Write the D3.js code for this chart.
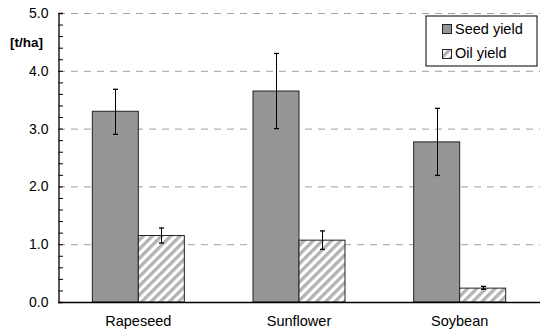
<!DOCTYPE html>
<html>
<head>
<meta charset="utf-8">
<script src="https://cdn.jsdelivr.net/npm/d3@7"></script>
<style>
  body { margin: 0; background: #fff; }
  text { font-family: "Liberation Sans", Arial, sans-serif; }
</style>
</head>
<body>
<div id="chart-area"></div>
<script>
// seed and oil yield per crop, with error bars

const crops = ["Rapeseed", "Sunflower", "Soybean"]
const seedYield = [3.30, 3.65, 2.77]
const seedLow = [2.90, 3.00, 2.19]
const seedHigh = [3.68, 4.30, 3.35]
const oilYield = [1.15, 1.07, 0.24]
const oilLow = [1.02, 0.91, 0.22]
const oilHigh = [1.28, 1.23, 0.27]
const yTicks = [0, 1, 2, 3, 4, 5]

const W = 540, H = 332
const MARGIN = {LEFT: 58, RIGHT: 0, TOP: 13, BOTTOM: 30}

const svg = d3.select("#chart-area").append("svg")
    .attr("width", W)
    .attr("height", H)

// hatch for oil bars
const pat = svg.append("defs").append("pattern")
    .attr("id", "hatch")
    .attr("patternUnits", "userSpaceOnUse")
    .attr("width", 6.5)
    .attr("height", 6.5)
    .attr("patternTransform", "rotate(45)")
pat.append("rect").attr("width", 6.5).attr("height", 6.5).attr("fill", "#fff")
pat.append("rect").attr("x", 0).attr("width", 3.3).attr("height", 6.5).attr("fill", "#b3b3b3")

const x = d3.scaleBand()
    .domain(crops)
    .range([MARGIN.LEFT, W - MARGIN.RIGHT])

const y = d3.scaleLinear()
    .domain([0, 5])
    .range([H - MARGIN.BOTTOM, MARGIN.TOP])

const barW = 46

// grid
svg.append("g").selectAll("line")
    .data(yTicks.slice(1))
    .enter().append("line")
    .attr("x1", MARGIN.LEFT)
    .attr("x2", W)
    .attr("y1", d => y(d) + 0.5)
    .attr("y2", d => y(d) + 0.5)
    .attr("stroke", "#a0a0a0")
    .attr("stroke-dasharray", "7,6")

const yAxisCall = d3.axisLeft(y)
    .tickValues(d3.range(0, 5.01, 0.2))
    .tickSize(-4.5)
    .tickFormat(d => Math.abs(d - Math.round(d)) < 1e-6 ? d3.format(".1f")(d) : "")
const yAxis = svg.append("g")
    .attr("transform", `translate(${MARGIN.LEFT + 0.5}, 0)`)
    .call(yAxisCall)
yAxis.select(".domain").attr("stroke", "#000").attr("stroke-width", 1.3)
yAxis.selectAll(".tick line").attr("stroke", "#000")
yAxis.selectAll("text")
    .attr("font-size", "14px")
    .attr("fill", "#000")
    .attr("x", -10)

// unit label
svg.append("text")
    .attr("x", 26.5)
    .attr("y", 47)
    .attr("text-anchor", "middle")
    .attr("font-size", "13.5px")
    .attr("font-weight", "bold")
    .text("[t/ha]")

const g = svg.append("g")

// seed bars
g.selectAll(".seed")
    .data(crops)
    .enter().append("rect")
    .attr("class", "seed")
    .attr("x", d => x(d) + x.bandwidth() / 2 - barW)
    .attr("y", (d, i) => y(seedYield[i]))
    .attr("width", barW)
    .attr("height", (d, i) => y(0) - y(seedYield[i]))
    .attr("fill", "#969696")
    .attr("stroke", "#222")
    .attr("stroke-width", 1)

// oil bars
g.selectAll(".oil")
    .data(crops)
    .enter().append("rect")
    .attr("class", "oil")
    .attr("x", d => x(d) + x.bandwidth() / 2)
    .attr("y", (d, i) => y(oilYield[i]))
    .attr("width", barW)
    .attr("height", (d, i) => y(0) - y(oilYield[i]))
    .attr("fill", "url(#hatch)")
    .attr("stroke", "#222")
    .attr("stroke-width", 1)

// error bars
function errBars(lo, hi, offset) {
    const e = g.append("g")
    crops.forEach((c, i) => {
        const cx = Math.round(x(c) + x.bandwidth() / 2 + offset) + 0.5
        e.append("line")
            .attr("x1", cx).attr("x2", cx)
            .attr("y1", y(lo[i])).attr("y2", y(hi[i]))
            .attr("stroke", "#000")
        ;[lo[i], hi[i]].forEach(v => {
            e.append("line")
                .attr("x1", cx - 2.5).attr("x2", cx + 2.5)
                .attr("y1", y(v)).attr("y2", y(v))
                .attr("stroke", "#000")
                .attr("stroke-width", 1.3)
        })
    })
}
errBars(seedLow, seedHigh, -barW / 2)
errBars(oilLow, oilHigh, barW / 2)

// x axis
svg.append("line")
    .attr("x1", MARGIN.LEFT)
    .attr("x2", W)
    .attr("y1", y(0) + 0.5)
    .attr("y2", y(0) + 0.5)
    .attr("stroke", "#000")
    .attr("stroke-width", 1.3)

svg.append("g").selectAll("text")
    .data(crops)
    .enter().append("text")
    .attr("x", d => x(d) + x.bandwidth() / 2)
    .attr("y", 325.5)
    .attr("text-anchor", "middle")
    .attr("font-size", "14.5px")
    .text(d => d)

// legend
const leg = svg.append("g").attr("transform", "translate(426, 16)")
leg.append("rect")
    .attr("width", 111)
    .attr("height", 50)
    .attr("fill", "#fff")
    .attr("stroke", "#000")
const items = [["Seed yield", "#969696"], ["Oil yield", "url(#hatch)"]]
items.forEach((it, i) => {
    leg.append("rect")
        .attr("x", 16.5)
        .attr("y", 8.5 + i * 25)
        .attr("width", 9)
        .attr("height", 9)
        .attr("fill", it[1])
        .attr("stroke", "#222")
    leg.append("text")
        .attr("x", 29)
        .attr("y", 18 + i * 23.5)
        .attr("font-size", "14.5px")
        .text(it[0])
})
</script>
</body>
</html>
